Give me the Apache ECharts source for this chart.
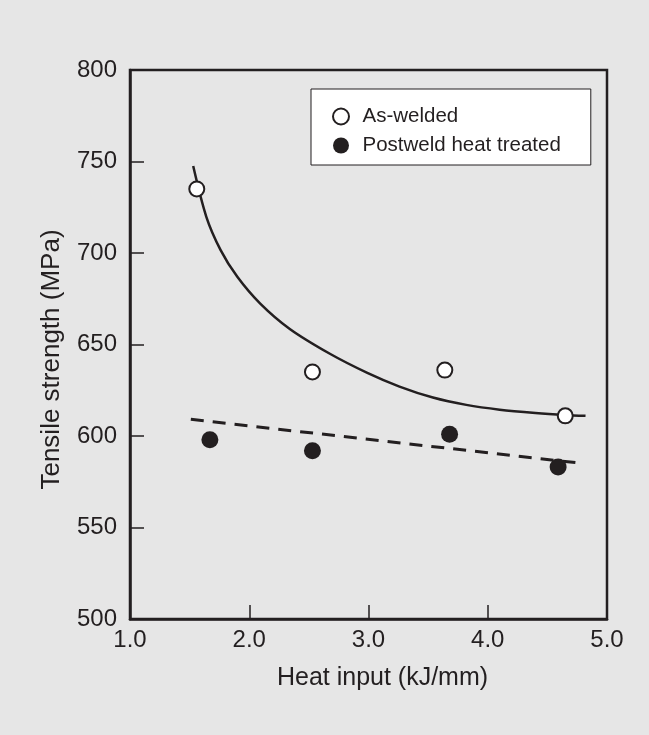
<!DOCTYPE html>
<html><head><meta charset="utf-8">
<script src="https://cdn.jsdelivr.net/npm/echarts@6/dist/echarts.min.js"></script>
<style>html,body{margin:0;padding:0;background:#e6e6e6;}#c{width:649px;height:735px;}</style>
</head><body><div id="c"></div>
<script>
// Data
const asWeldedX = [1.56, 2.53, 3.64, 4.65];
const asWeldedY = [735, 635, 636, 611];
const pwhtX = [1.67, 2.53, 3.68, 4.59];
const pwhtY = [598, 592, 601, 583];
// Fitted curve (solid)
const curveX = [1.53, 1.64, 1.76, 1.90, 2.09, 2.34, 2.68, 2.99, 3.26, 3.54, 3.82, 4.10, 4.40, 4.65, 4.82];
const curveY = [747.5, 719.8, 701.6, 687.0, 672.5, 658.5, 644.8, 634.5, 627.0, 621.0, 617.0, 614.4, 612.6, 611.5, 611.0];
// Trend line (dashed) endpoints
const trendX = [1.51, 4.77];
const trendY = [609.1, 585.2];
const xTicks = [1.0, 2.0, 3.0, 4.0, 5.0];
const yTicks = [500, 550, 600, 650, 700, 750, 800];

const ink = '#231f20';
const font = 'Liberation Sans, Arial, Helvetica, sans-serif';
const zip = (a, b) => a.map((v, i) => [v, b[i]]);

const chart = echarts.init(document.getElementById('c'), null, {renderer: 'canvas'});
chart.setOption({
  backgroundColor: '#e6e6e6',
  animation: false,
  grid: {left: 130, top: 70, right: 42, bottom: 116, show: true, borderColor: ink, borderWidth: 2.5, backgroundColor: 'transparent'},
  xAxis: {
    type: 'value', min: xTicks[0], max: xTicks[xTicks.length - 1], interval: 1,
    name: 'Heat input (kJ/mm)', nameLocation: 'middle', nameGap: 47,
    nameTextStyle: {fontFamily: font, fontSize: 25, color: ink, padding: [0, 0, 0, 28]},
    axisLine: {show: true, lineStyle: {color: ink, width: 2.5}},
    axisTick: {show: true, inside: true, length: 14, lineStyle: {color: ink, width: 1.5}},
    axisLabel: {fontFamily: font, fontSize: 24, color: ink, margin: 9, formatter: v => v.toFixed(1)},
    splitLine: {show: false}
  },
  yAxis: {
    type: 'value', min: yTicks[0], max: yTicks[yTicks.length - 1], interval: 50,
    name: 'Tensile strength (MPa)', nameLocation: 'middle', nameGap: 65,
    nameTextStyle: {fontFamily: font, fontSize: 26, color: ink, padding: [0, 30, 0, 0]},
    axisLine: {show: true, lineStyle: {color: ink, width: 2.5}},
    axisTick: {show: true, inside: true, length: 14, lineStyle: {color: ink, width: 1.5}},
    axisLabel: {fontFamily: font, fontSize: 24, color: ink, margin: 13},
    splitLine: {show: false}
  },
  legend: {
    left: 311, top: 89, orient: 'vertical',
    backgroundColor: '#ffffff', borderColor: ink, borderWidth: 1,
    padding: [17, 30, 9, 21], itemWidth: 33, itemHeight: 16, itemGap: 8,
    textStyle: {fontFamily: font, fontSize: 20.5, color: ink},
    data: ['As-welded', 'Postweld heat treated']
  },
  series: [
    {type: 'line', name: 'fit', data: zip(curveX, curveY), smooth: 0.3, showSymbol: false, symbol: 'none',
     lineStyle: {color: ink, width: 2.5}, z: 2, silent: true},
    {type: 'line', name: 'trend', data: zip(trendX, trendY), showSymbol: false, symbol: 'none',
     lineStyle: {color: ink, width: 3, type: [13, 9]}, z: 2, silent: true},
    {type: 'scatter', name: 'As-welded', data: zip(asWeldedX, asWeldedY), symbol: 'circle', symbolSize: 15,
     itemStyle: {color: '#ffffff', borderColor: ink, borderWidth: 2, opacity: 1}, z: 5},
    {type: 'scatter', name: 'Postweld heat treated', data: zip(pwhtX, pwhtY), symbol: 'circle', symbolSize: 17,
     itemStyle: {color: ink, opacity: 1}, z: 5}
  ]
});
</script></body></html>
